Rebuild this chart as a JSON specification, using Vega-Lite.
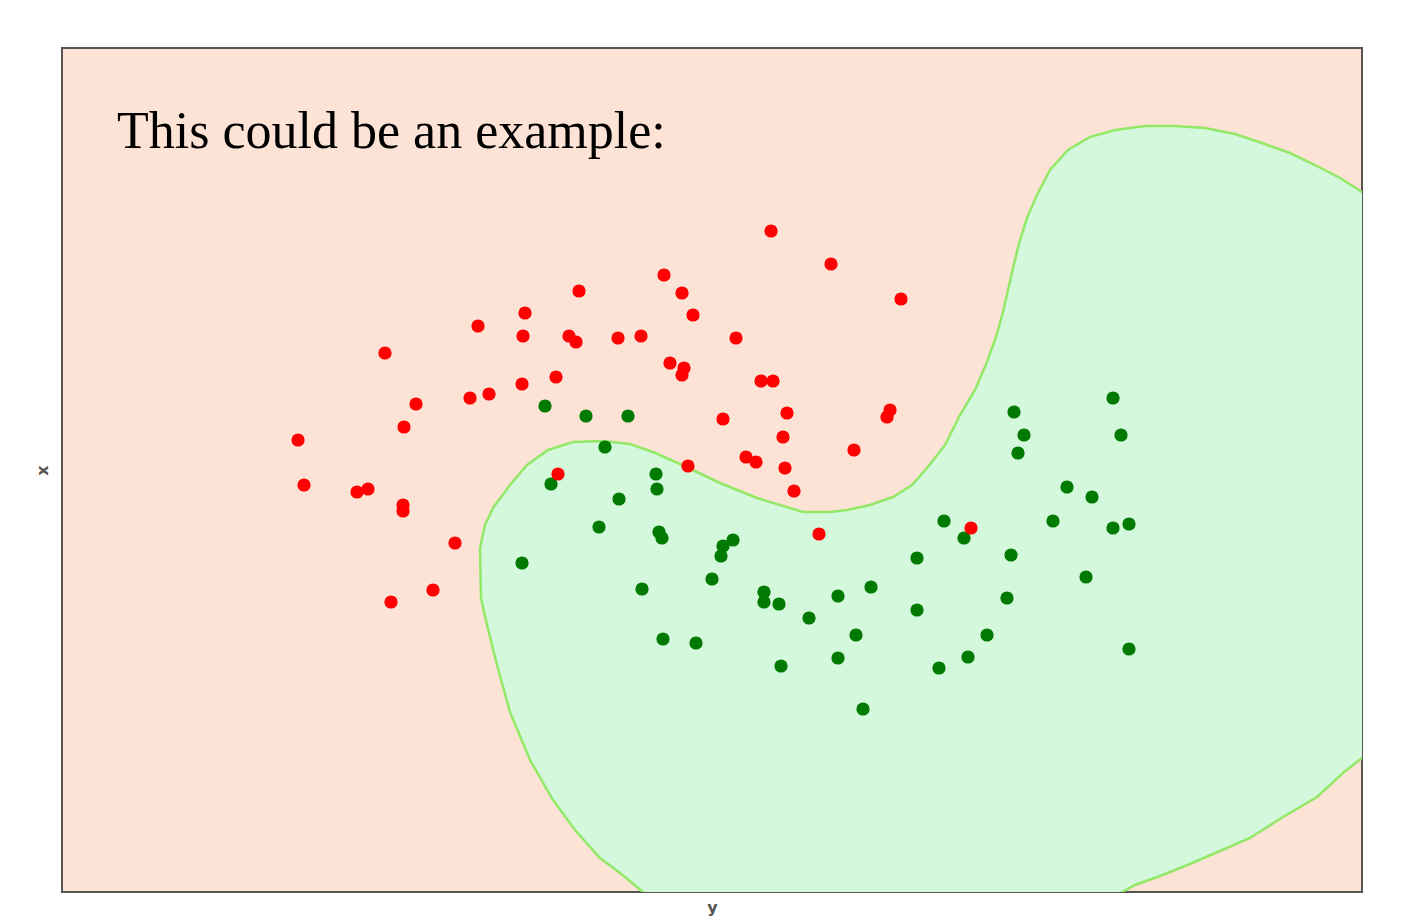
{
  "$schema": "https://vega.github.io/schema/vega-lite/v6.json",
  "autosize": {"type": "none"},
  "padding": {"left": 62, "top": 48, "right": 42, "bottom": 25},
  "width": 1300,
  "height": 844,
  "background": "white",
  "config": {
    "view": {"fill": "#fde3d6", "stroke": "#555555", "strokeWidth": 2}
  },
  "title": {
    "text": "This could be an example:",
    "orient": "top",
    "anchor": "start",
    "frame": "group",
    "offset": -152,
    "dx": 55,
    "baseline": "alphabetic",
    "font": "Liberation Serif",
    "fontSize": 52,
    "fontWeight": "normal",
    "color": "#000000"
  },
  "datasets": {
    "boundary": [
      {"i": 0, "bx": 58.7, "by": -0.5},
      {"i": 1, "bx": 55.8, "by": 1.9},
      {"i": 2, "bx": 53.8, "by": 3.4},
      {"i": 3, "bx": 51.3, "by": 6.2},
      {"i": 4, "bx": 49.1, "by": 9.2},
      {"i": 5, "bx": 46.8, "by": 13.2},
      {"i": 6, "bx": 44.8, "by": 18.0},
      {"i": 7, "bx": 43.5, "by": 22.7},
      {"i": 8, "bx": 42.5, "by": 26.7},
      {"i": 9, "bx": 41.9, "by": 29.4},
      {"i": 10, "bx": 41.8, "by": 34.4},
      {"i": 11, "bx": 42.3, "by": 36.7},
      {"i": 12, "bx": 43.1, "by": 38.4},
      {"i": 13, "bx": 44.8, "by": 40.7},
      {"i": 14, "bx": 46.5, "by": 42.7},
      {"i": 15, "bx": 48.6, "by": 44.2},
      {"i": 16, "bx": 51.1, "by": 45.0},
      {"i": 17, "bx": 54.1, "by": 45.1},
      {"i": 18, "bx": 56.8, "by": 44.8},
      {"i": 19, "bx": 59.1, "by": 44.0},
      {"i": 20, "bx": 61.8, "by": 42.8},
      {"i": 21, "bx": 65.8, "by": 40.9},
      {"i": 22, "bx": 69.5, "by": 39.4},
      {"i": 23, "bx": 74.1, "by": 38.0},
      {"i": 24, "bx": 76.8, "by": 38.0},
      {"i": 25, "bx": 78.5, "by": 38.2},
      {"i": 26, "bx": 80.8, "by": 38.7},
      {"i": 27, "bx": 83.1, "by": 39.5},
      {"i": 28, "bx": 85.0, "by": 40.7},
      {"i": 29, "bx": 86.5, "by": 42.4},
      {"i": 30, "bx": 88.3, "by": 44.7},
      {"i": 31, "bx": 89.8, "by": 47.7},
      {"i": 32, "bx": 91.3, "by": 50.2},
      {"i": 33, "bx": 92.5, "by": 53.0},
      {"i": 34, "bx": 93.4, "by": 55.5},
      {"i": 35, "bx": 94.1, "by": 58.0},
      {"i": 36, "bx": 95.1, "by": 62.4},
      {"i": 37, "bx": 95.8, "by": 65.2},
      {"i": 38, "bx": 96.5, "by": 67.4},
      {"i": 39, "bx": 97.5, "by": 69.7},
      {"i": 40, "bx": 98.8, "by": 72.2},
      {"i": 41, "bx": 100.6, "by": 74.2},
      {"i": 42, "bx": 102.8, "by": 75.5},
      {"i": 43, "bx": 105.3, "by": 76.2},
      {"i": 44, "bx": 108.3, "by": 76.6},
      {"i": 45, "bx": 111.3, "by": 76.6},
      {"i": 46, "bx": 114.3, "by": 76.4},
      {"i": 47, "bx": 117.3, "by": 75.8},
      {"i": 48, "bx": 120.0, "by": 74.9},
      {"i": 49, "bx": 122.8, "by": 73.9},
      {"i": 50, "bx": 125.3, "by": 72.7},
      {"i": 51, "bx": 127.8, "by": 71.4},
      {"i": 52, "bx": 130.0, "by": 70.0},
      {"i": 53, "bx": 130.6, "by": 69.6},
      {"i": 54, "bx": 130.6, "by": 13.0},
      {"i": 55, "bx": 130.0, "by": 13.4},
      {"i": 56, "bx": 128.1, "by": 11.9},
      {"i": 57, "bx": 125.5, "by": 9.5},
      {"i": 58, "bx": 122.1, "by": 7.5},
      {"i": 59, "bx": 118.8, "by": 5.4},
      {"i": 60, "bx": 115.8, "by": 4.1},
      {"i": 61, "bx": 112.8, "by": 2.8},
      {"i": 62, "bx": 109.8, "by": 1.6},
      {"i": 63, "bx": 107.3, "by": 0.7},
      {"i": 64, "bx": 105.1, "by": -0.5}
    ],
    "points": [
      {"x": 48.3, "y": 48.6, "cls": "green"},
      {"x": 52.4, "y": 47.6, "cls": "green"},
      {"x": 56.6, "y": 47.6, "cls": "green"},
      {"x": 54.3, "y": 44.5, "cls": "green"},
      {"x": 48.9, "y": 40.8, "cls": "green"},
      {"x": 59.4, "y": 41.8, "cls": "green"},
      {"x": 59.5, "y": 40.3, "cls": "green"},
      {"x": 55.7, "y": 39.3, "cls": "green"},
      {"x": 53.7, "y": 36.5, "cls": "green"},
      {"x": 59.7, "y": 36.0, "cls": "green"},
      {"x": 60.0, "y": 35.4, "cls": "green"},
      {"x": 46.0, "y": 32.9, "cls": "green"},
      {"x": 67.1, "y": 35.2, "cls": "green"},
      {"x": 66.1, "y": 34.6, "cls": "green"},
      {"x": 65.9, "y": 33.6, "cls": "green"},
      {"x": 65.0, "y": 31.3, "cls": "green"},
      {"x": 58.0, "y": 30.3, "cls": "green"},
      {"x": 70.2, "y": 30.0, "cls": "green"},
      {"x": 70.2, "y": 29.0, "cls": "green"},
      {"x": 71.7, "y": 28.8, "cls": "green"},
      {"x": 77.6, "y": 29.6, "cls": "green"},
      {"x": 74.7, "y": 27.4, "cls": "green"},
      {"x": 79.4, "y": 25.7, "cls": "green"},
      {"x": 80.9, "y": 30.5, "cls": "green"},
      {"x": 60.1, "y": 25.3, "cls": "green"},
      {"x": 63.4, "y": 24.9, "cls": "green"},
      {"x": 77.6, "y": 23.4, "cls": "green"},
      {"x": 71.9, "y": 22.6, "cls": "green"},
      {"x": 80.1, "y": 18.3, "cls": "green"},
      {"x": 88.2, "y": 37.1, "cls": "green"},
      {"x": 90.2, "y": 35.4, "cls": "green"},
      {"x": 85.5, "y": 33.4, "cls": "green"},
      {"x": 94.9, "y": 33.7, "cls": "green"},
      {"x": 85.5, "y": 28.2, "cls": "green"},
      {"x": 94.5, "y": 29.4, "cls": "green"},
      {"x": 92.5, "y": 25.7, "cls": "green"},
      {"x": 90.6, "y": 23.5, "cls": "green"},
      {"x": 87.7, "y": 22.4, "cls": "green"},
      {"x": 95.2, "y": 48.0, "cls": "green"},
      {"x": 96.2, "y": 45.7, "cls": "green"},
      {"x": 95.6, "y": 43.9, "cls": "green"},
      {"x": 105.1, "y": 49.4, "cls": "green"},
      {"x": 105.9, "y": 45.7, "cls": "green"},
      {"x": 100.5, "y": 40.5, "cls": "green"},
      {"x": 103.0, "y": 39.5, "cls": "green"},
      {"x": 99.1, "y": 37.1, "cls": "green"},
      {"x": 105.1, "y": 36.4, "cls": "green"},
      {"x": 106.7, "y": 36.8, "cls": "green"},
      {"x": 102.4, "y": 31.5, "cls": "green"},
      {"x": 106.7, "y": 24.3, "cls": "green"},
      {"x": 70.9, "y": 66.1, "cls": "red"},
      {"x": 76.9, "y": 62.8, "cls": "red"},
      {"x": 83.9, "y": 59.3, "cls": "red"},
      {"x": 60.2, "y": 61.7, "cls": "red"},
      {"x": 62.0, "y": 59.9, "cls": "red"},
      {"x": 63.1, "y": 57.7, "cls": "red"},
      {"x": 51.7, "y": 60.1, "cls": "red"},
      {"x": 46.3, "y": 57.9, "cls": "red"},
      {"x": 41.6, "y": 56.6, "cls": "red"},
      {"x": 46.1, "y": 55.6, "cls": "red"},
      {"x": 50.7, "y": 55.6, "cls": "red"},
      {"x": 51.4, "y": 55.0, "cls": "red"},
      {"x": 55.6, "y": 55.4, "cls": "red"},
      {"x": 57.9, "y": 55.6, "cls": "red"},
      {"x": 67.4, "y": 55.4, "cls": "red"},
      {"x": 32.3, "y": 53.9, "cls": "red"},
      {"x": 60.8, "y": 52.9, "cls": "red"},
      {"x": 62.2, "y": 52.4, "cls": "red"},
      {"x": 62.0, "y": 51.7, "cls": "red"},
      {"x": 49.4, "y": 51.5, "cls": "red"},
      {"x": 46.0, "y": 50.8, "cls": "red"},
      {"x": 69.9, "y": 51.1, "cls": "red"},
      {"x": 71.1, "y": 51.1, "cls": "red"},
      {"x": 42.7, "y": 49.8, "cls": "red"},
      {"x": 40.8, "y": 49.4, "cls": "red"},
      {"x": 35.4, "y": 48.8, "cls": "red"},
      {"x": 82.8, "y": 48.2, "cls": "red"},
      {"x": 82.5, "y": 47.5, "cls": "red"},
      {"x": 72.5, "y": 47.9, "cls": "red"},
      {"x": 66.1, "y": 47.3, "cls": "red"},
      {"x": 34.2, "y": 46.5, "cls": "red"},
      {"x": 23.6, "y": 45.2, "cls": "red"},
      {"x": 72.1, "y": 45.5, "cls": "red"},
      {"x": 79.2, "y": 44.2, "cls": "red"},
      {"x": 68.4, "y": 43.5, "cls": "red"},
      {"x": 69.4, "y": 43.0, "cls": "red"},
      {"x": 62.6, "y": 42.6, "cls": "red"},
      {"x": 72.3, "y": 42.4, "cls": "red"},
      {"x": 49.6, "y": 41.8, "cls": "red"},
      {"x": 24.2, "y": 40.7, "cls": "red"},
      {"x": 29.5, "y": 40.0, "cls": "red"},
      {"x": 30.6, "y": 40.3, "cls": "red"},
      {"x": 73.2, "y": 40.1, "cls": "red"},
      {"x": 34.1, "y": 38.7, "cls": "red"},
      {"x": 34.1, "y": 38.1, "cls": "red"},
      {"x": 75.7, "y": 35.8, "cls": "red"},
      {"x": 39.3, "y": 34.9, "cls": "red"},
      {"x": 90.9, "y": 36.4, "cls": "red"},
      {"x": 37.1, "y": 30.2, "cls": "red"},
      {"x": 32.9, "y": 29.0, "cls": "red"}
    ]
  },
  "layer": [
    {
      "data": {"name": "boundary"},
      "mark": {
        "type": "line",
        "fill": "#d3f8dc",
        "stroke": "#93e868",
        "strokeWidth": 2.5,
        "clip": true,
        "interpolate": "linear"
      },
      "encoding": {
        "x": {
          "field": "bx",
          "type": "quantitative",
          "scale": {"domain": [0, 130], "nice": false, "zero": false},
          "axis": {
            "title": "y",
            "domain": false,
            "ticks": false,
            "labels": false,
            "grid": false,
            "titlePadding": 7,
            "titleFont": "DejaVu Sans",
            "titleFontSize": 16,
            "titleFontWeight": "bold",
            "titleColor": "#555555"
          }
        },
        "y": {
          "field": "by",
          "type": "quantitative",
          "scale": {"domain": [0, 84.4], "nice": false, "zero": false},
          "axis": {
            "title": "x",
            "domain": false,
            "ticks": false,
            "labels": false,
            "grid": false,
            "titlePadding": 12,
            "titleFont": "DejaVu Sans",
            "titleFontSize": 16,
            "titleFontWeight": "bold",
            "titleColor": "#555555"
          }
        },
        "order": {"field": "i", "type": "quantitative"}
      }
    },
    {
      "data": {"name": "points"},
      "mark": {"type": "point", "filled": true, "opacity": 1, "size": 175, "shape": "circle"},
      "encoding": {
        "x": {"field": "x", "type": "quantitative"},
        "y": {"field": "y", "type": "quantitative"},
        "color": {
          "field": "cls",
          "type": "nominal",
          "scale": {"domain": ["red", "green"], "range": ["#ff0000", "#007a00"]},
          "legend": null
        }
      }
    }
  ]
}
